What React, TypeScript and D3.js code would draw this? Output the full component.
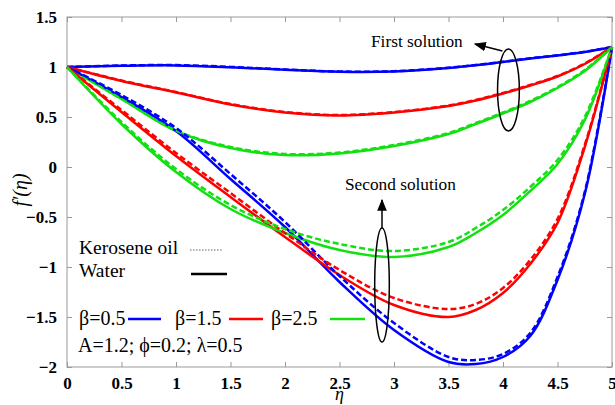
import React, { useRef, useEffect } from "react"
import * as d3 from "d3"

// eta grid shared by every curve
const eta = [0, 0.5, 1, 1.5, 2, 2.5, 3, 3.5, 3.75, 4, 4.25, 4.5, 4.75, 5]

// first solution (water = solid, kerosene oil = dashed)
const blueFirstWater = [1, 1.012, 1.016, 0.998, 0.972, 0.952, 0.955, 0.99, 1.017, 1.05, 1.085, 1.115, 1.15, 1.2]
const blueFirstKero = [1, 1.015, 1.019, 1.001, 0.975, 0.955, 0.958, 0.993, 1.02, 1.052, 1.087, 1.117, 1.152, 1.2]
const redFirstWater = [1, 0.86, 0.745, 0.625, 0.545, 0.515, 0.545, 0.61, 0.665, 0.735, 0.815, 0.905, 1.03, 1.2]
const redFirstKero = [1, 0.865, 0.75, 0.63, 0.55, 0.52, 0.55, 0.615, 0.67, 0.74, 0.82, 0.91, 1.035, 1.2]
const greenFirstWater = [1, 0.68, 0.36, 0.19, 0.12, 0.135, 0.21, 0.33, 0.43, 0.535, 0.65, 0.79, 0.96, 1.2]
const greenFirstKero = [1, 0.68, 0.365, 0.2, 0.13, 0.145, 0.22, 0.34, 0.44, 0.545, 0.66, 0.8, 0.97, 1.2]

// second solution
const blueSecondWater = [1, 0.7, 0.36, -0.12, -0.6, -1.15, -1.63, -1.95, -1.97, -1.9, -1.69, -1.13, -0.27, 1.2]
const blueSecondKero = [1, 0.72, 0.39, -0.07, -0.55, -1.09, -1.56, -1.9, -1.93, -1.87, -1.66, -1.1, -0.25, 1.2]
const redSecondWater = [1, 0.55, 0.11, -0.3, -0.7, -1.08, -1.38, -1.5, -1.43, -1.26, -0.97, -0.56, 0.2, 1.2]
const redSecondKero = [1, 0.57, 0.14, -0.26, -0.66, -1.03, -1.31, -1.42, -1.37, -1.21, -0.93, -0.52, 0.22, 1.2]
const greenSecondWater = [1, 0.43, -0.05, -0.42, -0.66, -0.83, -0.9, -0.8, -0.66, -0.48, -0.24, 0.03, 0.47, 1.2]
const greenSecondKero = [1, 0.45, -0.02, -0.38, -0.62, -0.77, -0.84, -0.75, -0.61, -0.43, -0.2, 0.07, 0.5, 1.2]

const xTicks = [0, 0.5, 1, 1.5, 2, 2.5, 3, 3.5, 4, 4.5, 5]
const yTicks = [-2, -1.5, -1, -0.5, 0, 0.5, 1, 1.5]
const betaLabels = ["β=0.5", "β=1.5", "β=2.5"]
const colors = ["#0000ff", "#ff0000", "#11e011"]

const W = 615
const H = 405
const margin = { top: 17, right: 3, bottom: 38, left: 67 }
const serif = "Liberation Serif, Times New Roman, Tinos, Nimbus Roman, FreeSerif, Noto Serif, DejaVu Serif, serif"

const App = () => {
  const xAxisRef = useRef(null)
  const yAxisRef = useRef(null)
  const topAxisRef = useRef(null)
  const rightAxisRef = useRef(null)

  const x = d3.scaleLinear().domain([0, 5]).range([margin.left, W - margin.right])
  const y = d3.scaleLinear().domain([-2, 1.5]).range([H - margin.bottom, margin.top])

  const series = [
    { v: blueFirstWater, c: colors[0], dash: false },
    { v: redFirstWater, c: colors[1], dash: false },
    { v: greenFirstWater, c: colors[2], dash: false },
    { v: blueSecondWater, c: colors[0], dash: false },
    { v: redSecondWater, c: colors[1], dash: false },
    { v: greenSecondWater, c: colors[2], dash: false },
    { v: blueFirstKero, c: colors[0], dash: true },
    { v: redFirstKero, c: colors[1], dash: true },
    { v: greenFirstKero, c: colors[2], dash: true },
    { v: blueSecondKero, c: colors[0], dash: true },
    { v: redSecondKero, c: colors[1], dash: true },
    { v: greenSecondKero, c: colors[2], dash: true },
  ]

  // centripetal Catmull-Rom copes with the uneven eta spacing
  const line = d3
    .line<number>()
    .x((d, i) => x(eta[i]))
    .y(d => y(d))
    .curve(d3.curveCatmullRom.alpha(0.5))

  useEffect(() => {
    const fmt = d3.format("~g")
    const style = g => {
      g.attr("font-family", null)
      g.select(".domain").remove()
      g.selectAll(".tick line").attr("stroke", "#999")
      g.selectAll(".tick text")
        .attr("fill", "#000")
        .style("font-family", serif)
        .style("font-weight", "bold")
        .style("font-size", "17px")
    }
    d3.select(xAxisRef.current)
      .call(d3.axisBottom(x).tickValues(xTicks).tickSizeInner(-5).tickSizeOuter(0).tickPadding(10).tickFormat(fmt))
      .call(style)
    d3.select(yAxisRef.current)
      .call(d3.axisLeft(y).tickValues(yTicks).tickSizeInner(-5).tickSizeOuter(0).tickPadding(10).tickFormat(fmt))
      .call(style)
    d3.select(topAxisRef.current)
      .call(d3.axisTop(x).tickValues(xTicks).tickSizeInner(-5).tickSizeOuter(0).tickFormat(() => ""))
      .call(style)
    d3.select(rightAxisRef.current)
      .call(d3.axisRight(y).tickValues(yTicks).tickSizeInner(-5).tickSizeOuter(0).tickFormat(() => ""))
      .call(style)
  }, [])

  const ex1 = { cx: x(4.05), cy: y(0.77), rx: x(0.1) - x(0), ry: y(0) - y(0.41) }
  const ex2 = { cx: x(2.89), cy: y(-1.18), rx: x(0.067) - x(0), ry: y(0) - y(0.57) }

  return (
    <svg width={W} height={H} style={{ position: "absolute", left: 0, top: 0, background: "#fff" }} fontFamily={serif}>
      <defs>
        <marker id="ah" viewBox="0 0 10 10" refX="9" refY="5" markerWidth="8" markerHeight="8" orient="auto">
          <path d="M0,1 L10,5 L0,9 z" fill="#000" />
        </marker>
      </defs>
      <rect x={margin.left} y={margin.top} width={W - margin.left - margin.right} height={H - margin.top - margin.bottom} fill="#fff" stroke="#999" strokeWidth={1} />
      <g ref={xAxisRef} transform={`translate(0,${H - margin.bottom})`} />
      <g ref={yAxisRef} transform={`translate(${margin.left},0)`} />
      <g ref={topAxisRef} transform={`translate(0,${margin.top})`} />
      <g ref={rightAxisRef} transform={`translate(${W - margin.right},0)`} />

      {series.map((s, i) => (
        <path key={i} d={line(s.v) || ""} fill="none" stroke={s.c} strokeWidth={2.5} strokeDasharray={s.dash ? "6,3" : undefined} />
      ))}

      {/* annotations */}
      <ellipse cx={ex1.cx} cy={ex1.cy} rx={ex1.rx} ry={ex1.ry} fill="none" stroke="#000" strokeWidth={1.5} />
      <line x1={ex1.cx - 6} y1={ex1.cy - ex1.ry + 2} x2={475} y2={44} stroke="#000" strokeWidth={1.5} markerEnd="url(#ah)" />
      <text x={371} y={47} fontSize={17.3}>First solution</text>

      <ellipse cx={ex2.cx} cy={ex2.cy} rx={ex2.rx} ry={ex2.ry} fill="none" stroke="#000" strokeWidth={1.5} />
      <line x1={ex2.cx} y1={ex2.cy - ex2.ry} x2={ex2.cx} y2={200} stroke="#000" strokeWidth={1.5} markerEnd="url(#ah)" />
      <text x={345} y={190} fontSize={17.3}>Second solution</text>

      {/* legend */}
      <text x={79} y={254} fontSize={19.5}>Kerosene oil</text>
      <line x1={190} x2={223} y1={250} y2={250} stroke="#999" strokeWidth={1.5} strokeDasharray="1.5,1.5" />
      <text x={79} y={277} fontSize={19.5}>Water</text>
      <line x1={191} x2={227} y1={274} y2={274} stroke="#000" strokeWidth={2.5} />
      {betaLabels.map((b, i) => (
        <g key={b}>
          <text x={79 + i * 96} y={325} fontSize={20}>{b}</text>
          <line x1={128 + i * 101} x2={161 + i * 102} y1={319} y2={319} stroke={colors[i]} strokeWidth={2.5} />
        </g>
      ))}
      <text x={78} y={352} fontSize={20}>A=1.2; ϕ=0.2; λ=0.5</text>

      {/* axis titles */}
      <text x={x(2.5)} y={400} fontStyle="italic" fontSize={18} textAnchor="middle">η</text>
      <text transform="translate(27,190) rotate(-90)" fontStyle="italic" fontSize={20} textAnchor="middle">f′(η)</text>
    </svg>
  )
}

export default App
